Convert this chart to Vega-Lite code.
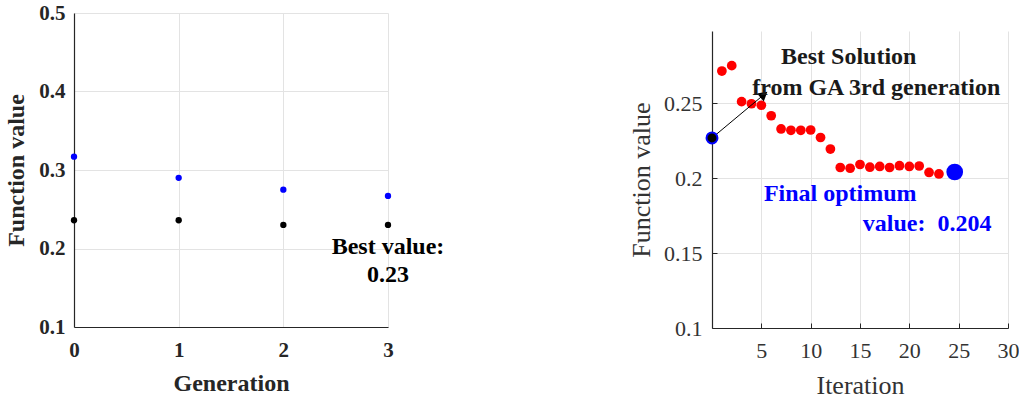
{
  "$schema": "https://vega.github.io/schema/vega-lite/v6.json",
  "padding": {"left": 4, "top": 2, "right": 0, "bottom": 0},
  "background": "white",
  "spacing": 183,
  "config": {
    "view": {"stroke": null},
    "font": "Liberation Serif",
    "axis": {
      "grid": true,
      "gridColor": "#e3e3e3",
      "gridWidth": 1,
      "domainColor": "#262626",
      "domainWidth": 1.2,
      "tickColor": "#262626",
      "labelFlush": false,
      "labelFont": "Liberation Serif",
      "titleFont": "Liberation Serif"
    }
  },
  "datasets": {
    "generations": [
      {"generation": 0, "value": 0.317, "series": "mean"},
      {"generation": 1, "value": 0.290, "series": "mean"},
      {"generation": 2, "value": 0.275, "series": "mean"},
      {"generation": 3, "value": 0.267, "series": "mean"},
      {"generation": 0, "value": 0.236, "series": "best"},
      {"generation": 1, "value": 0.236, "series": "best"},
      {"generation": 2, "value": 0.230, "series": "best"},
      {"generation": 3, "value": 0.230, "series": "best"}
    ],
    "iterations": [
      {"iteration": 1, "value": 0.2713},
      {"iteration": 2, "value": 0.2749},
      {"iteration": 3, "value": 0.2509},
      {"iteration": 4, "value": 0.2495},
      {"iteration": 5, "value": 0.2485},
      {"iteration": 6, "value": 0.2415},
      {"iteration": 7, "value": 0.2327},
      {"iteration": 8, "value": 0.2318},
      {"iteration": 9, "value": 0.2318},
      {"iteration": 10, "value": 0.2320},
      {"iteration": 11, "value": 0.2270},
      {"iteration": 12, "value": 0.2193},
      {"iteration": 13, "value": 0.2070},
      {"iteration": 14, "value": 0.2065},
      {"iteration": 15, "value": 0.2090},
      {"iteration": 16, "value": 0.2072},
      {"iteration": 17, "value": 0.2077},
      {"iteration": 18, "value": 0.2070},
      {"iteration": 19, "value": 0.2082},
      {"iteration": 20, "value": 0.2077},
      {"iteration": 21, "value": 0.2080},
      {"iteration": 22, "value": 0.2037},
      {"iteration": 23, "value": 0.2027}
    ]
  },
  "hconcat": [
    {
      "width": 314,
      "height": 314,
      "layer": [
        {
          "data": {"name": "generations"},
          "mark": {"type": "circle", "size": 40, "opacity": 1},
          "encoding": {
            "x": {
              "field": "generation",
              "type": "quantitative",
              "scale": {"domain": [0, 3], "nice": false},
              "axis": {
                "values": [0, 1, 2, 3],
                "format": "d",
                "title": "Generation",
                "labelFontSize": 21,
                "labelFontWeight": "bold",
                "labelColor": "#262626",
                "labelPadding": 12,
                "tickSize": 0,
                "titleFontSize": 24,
                "titleFontWeight": "bold",
                "titleColor": "#262626",
                "titlePadding": 11
              }
            },
            "y": {
              "field": "value",
              "type": "quantitative",
              "scale": {"domain": [0.1, 0.5], "nice": false, "zero": false},
              "axis": {
                "values": [0.1, 0.2, 0.3, 0.4, 0.5],
                "format": ".1f",
                "title": "Function value",
                "labelFontSize": 21,
                "labelFontWeight": "bold",
                "labelColor": "#262626",
                "labelPadding": 9,
                "tickSize": 0,
                "titleFontSize": 24,
                "titleFontWeight": "bold",
                "titleColor": "#262626",
                "titlePadding": 10
              }
            },
            "color": {
              "field": "series",
              "type": "nominal",
              "scale": {"domain": ["mean", "best"], "range": ["#0000ff", "#000000"]},
              "legend": null
            }
          }
        },
        {
          "data": {"values": [
            {"generation": 3, "value": 0.193, "label": "Best value:"},
            {"generation": 3, "value": 0.157, "label": "0.23"}
          ]},
          "mark": {"type": "text", "fontSize": 24, "fontWeight": "bold", "baseline": "alphabetic", "align": "center", "color": "#000000"},
          "encoding": {
            "x": {"field": "generation", "type": "quantitative"},
            "y": {"field": "value", "type": "quantitative"},
            "text": {"field": "label"}
          }
        }
      ]
    },
    {
      "spacing": 17,
      "vconcat": [
        {
          "width": 296,
          "height": 1,
          "data": {"values": []},
          "mark": {"type": "text"},
          "encoding": {}
        },
        {
          "width": 296,
          "height": 297,
          "encoding": {
            "x": {
              "field": "iteration",
              "type": "quantitative",
              "scale": {"domain": [0, 30], "nice": false},
              "axis": {
                "values": [5, 10, 15, 20, 25, 30],
                "title": "Iteration",
                "labelFontSize": 22,
                "labelColor": "#333333",
                "labelPadding": 17,
                "tickSize": -5,
                "titleFontSize": 26,
                "titleFontWeight": "normal",
                "titleColor": "#333333",
                "titlePadding": 11
              }
            },
            "y": {
              "field": "value",
              "type": "quantitative",
              "scale": {"domain": [0.1, 0.298], "nice": false, "zero": false},
              "axis": {
                "values": [0.1, 0.15, 0.2, 0.25],
                "format": "~g",
                "title": "Function value",
                "labelFontSize": 22,
                "labelColor": "#333333",
                "labelPadding": 15,
                "tickSize": -5,
                "titleFontSize": 26,
                "titleFontWeight": "normal",
                "titleColor": "#333333",
                "titlePadding": 9
              }
            }
          },
          "layer": [
            {
              "data": {"name": "iterations"},
              "mark": {"type": "circle", "size": 95, "color": "#ff0000", "opacity": 1}
            },
            {
              "data": {"values": [{"iteration": 0, "value": 0.2267, "tipIteration": 5.14, "tipValue": 0.2549}]},
              "mark": {"type": "rule", "color": "#000000", "strokeWidth": 1},
              "encoding": {
                "x2": {"field": "tipIteration"},
                "y2": {"field": "tipValue"}
              }
            },
            {
              "data": {"values": [{"iteration": 5.14, "value": 0.2549}]},
              "mark": {"type": "point", "shape": "triangle", "angle": 50, "size": 110, "filled": true, "color": "#000000", "opacity": 1}
            },
            {
              "data": {"values": [{"iteration": 0, "value": 0.2267}]},
              "mark": {"type": "point", "shape": "circle", "size": 120, "filled": true, "fill": "#000000", "stroke": "#0000ff", "strokeWidth": 2, "opacity": 1}
            },
            {
              "data": {"values": [{"iteration": 24.6, "value": 0.204}]},
              "mark": {"type": "circle", "size": 280, "color": "#0000ff", "opacity": 1}
            },
            {
              "data": {"values": [
                {"iteration": 13.86, "value": 0.2758, "label": "Best Solution"},
                {"iteration": 16.65, "value": 0.2555, "label": "from GA 3rd generation"}
              ]},
              "mark": {"type": "text", "fontSize": 24, "fontWeight": "bold", "baseline": "alphabetic", "align": "center", "color": "#1a1a1a"},
              "encoding": {"text": {"field": "label"}}
            },
            {
              "data": {"values": [
                {"iteration": 13.0, "value": 0.1849, "label": "Final optimum"},
                {"iteration": 21.8, "value": 0.1649, "label": "value: \u00a00.204"}
              ]},
              "mark": {"type": "text", "fontSize": 24, "fontWeight": "bold", "baseline": "alphabetic", "align": "center", "color": "#0000ff"},
              "encoding": {"text": {"field": "label"}}
            }
          ]
        }
      ]
    }
  ]
}
